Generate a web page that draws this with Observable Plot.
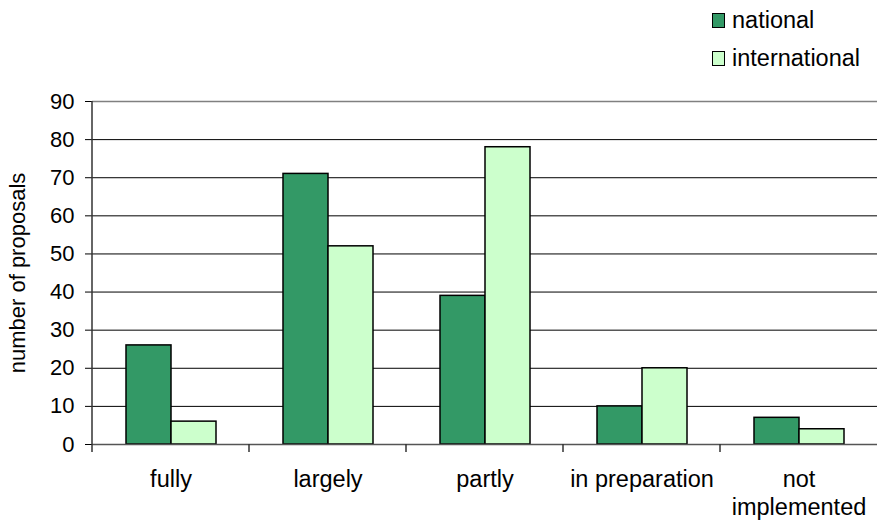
<!DOCTYPE html>
<html>
<head>
<meta charset="utf-8">
<script src="https://cdn.jsdelivr.net/npm/d3@7"></script>
<script src="https://cdn.jsdelivr.net/npm/@observablehq/plot@0.6"></script>
<style>
  body { margin: 0; background: #fff; font-family: "Liberation Sans", Arial, sans-serif; }
  #wrap { position: relative; width: 877px; height: 522px; }
  #legend { position: absolute; left: 712px; top: 1px; font-size: 23.5px; color: #000; }
  #legend .row { display: flex; align-items: center; height: 38px; }
  #legend .sw { width: 11px; height: 13px; border: 1.5px solid #000; margin-right: 7px; }
</style>
</head>
<body>
<div id="wrap">
  <div id="chart"></div>
  <div id="legend"></div>
</div>
<script>
const categories = ["fully", "largely", "partly", "in preparation", "not implemented"];
const categoryLabels = ["fully", "largely", "partly", "in preparation", "not\nimplemented"];
const series = ["national", "international"];
const nationalValues = [26, 71, 39, 10, 7];
const internationalValues = [6, 52, 78, 20, 4];
const yTicks = [0, 10, 20, 30, 40, 50, 60, 70, 80, 90];
const colors = ["#339966", "#ccffcc"];

const data = [];
categories.forEach((c, i) => {
  data.push({cat: c, series: "national", value: nationalValues[i]});
  data.push({cat: c, series: "international", value: internationalValues[i]});
});
const labelData = categories.map((c, i) => ({cat: c, label: categoryLabels[i]}));

const plot = Plot.plot({
  width: 877,
  height: 522,
  marginTop: 101,
  marginBottom: 78,
  marginLeft: 91,
  marginRight: 0,
  style: {fontFamily: '"Liberation Sans", Arial, sans-serif', fontSize: "22px", color: "#000", background: "#fff"},
  fx: {domain: categories, padding: 0, axis: null},
  x: {domain: series, paddingInner: 0, paddingOuter: 0.71, axis: null},
  y: {domain: [0, 90], axis: null},
  color: {domain: series, range: colors},
  marks: [
    Plot.ruleY(yTicks.filter(t => t > 0 && t < 90), {stroke: "#000", strokeWidth: 1}),
    Plot.ruleY([90], {stroke: "#808080", strokeWidth: 1.5}),
    Plot.barY(data, {fx: "cat", x: "series", y: "value", fill: "series", stroke: "#000", strokeWidth: 1.5}),
    Plot.ruleY([0], {stroke: "#555", strokeWidth: 1.5}),
    Plot.axisY({ticks: yTicks, tickSize: 7, tickPadding: 11, fontSize: 22, label: "number of proposals", labelAnchor: "center", labelArrow: false, labelOffset: 83}),
    Plot.text(labelData, {fx: "cat", text: "label", frameAnchor: "bottom", lineAnchor: "top", dy: 23, lineHeight: 1.17, fontSize: 23.5})
  ]
});

// boundary ticks and left axis line, positioned with Plot's scales
const fxs = plot.scale("fx");
const ys = plot.scale("y");
const svg = d3.select(plot.tagName === "svg" ? plot : plot.querySelector("svg"));
const y0 = ys.apply(0), yTop = ys.apply(90);
const g = svg.append("g").attr("stroke", "#333").attr("stroke-width", 1.5);
categories.forEach(c => {
  const x = fxs.apply(c);
  g.append("line").attr("x1", x).attr("x2", x).attr("y1", y0).attr("y2", y0 + 8);
});
const xl = fxs.apply(categories[0]);
g.append("line").attr("x1", xl).attr("x2", xl).attr("y1", yTop).attr("y2", y0);

document.getElementById("chart").appendChild(plot);

const legend = d3.select("#legend");
series.forEach((s, i) => {
  const row = legend.append("div").attr("class", "row");
  row.append("div").attr("class", "sw").style("background", colors[i]);
  row.append("span").text(s);
});
</script>
</body>
</html>
